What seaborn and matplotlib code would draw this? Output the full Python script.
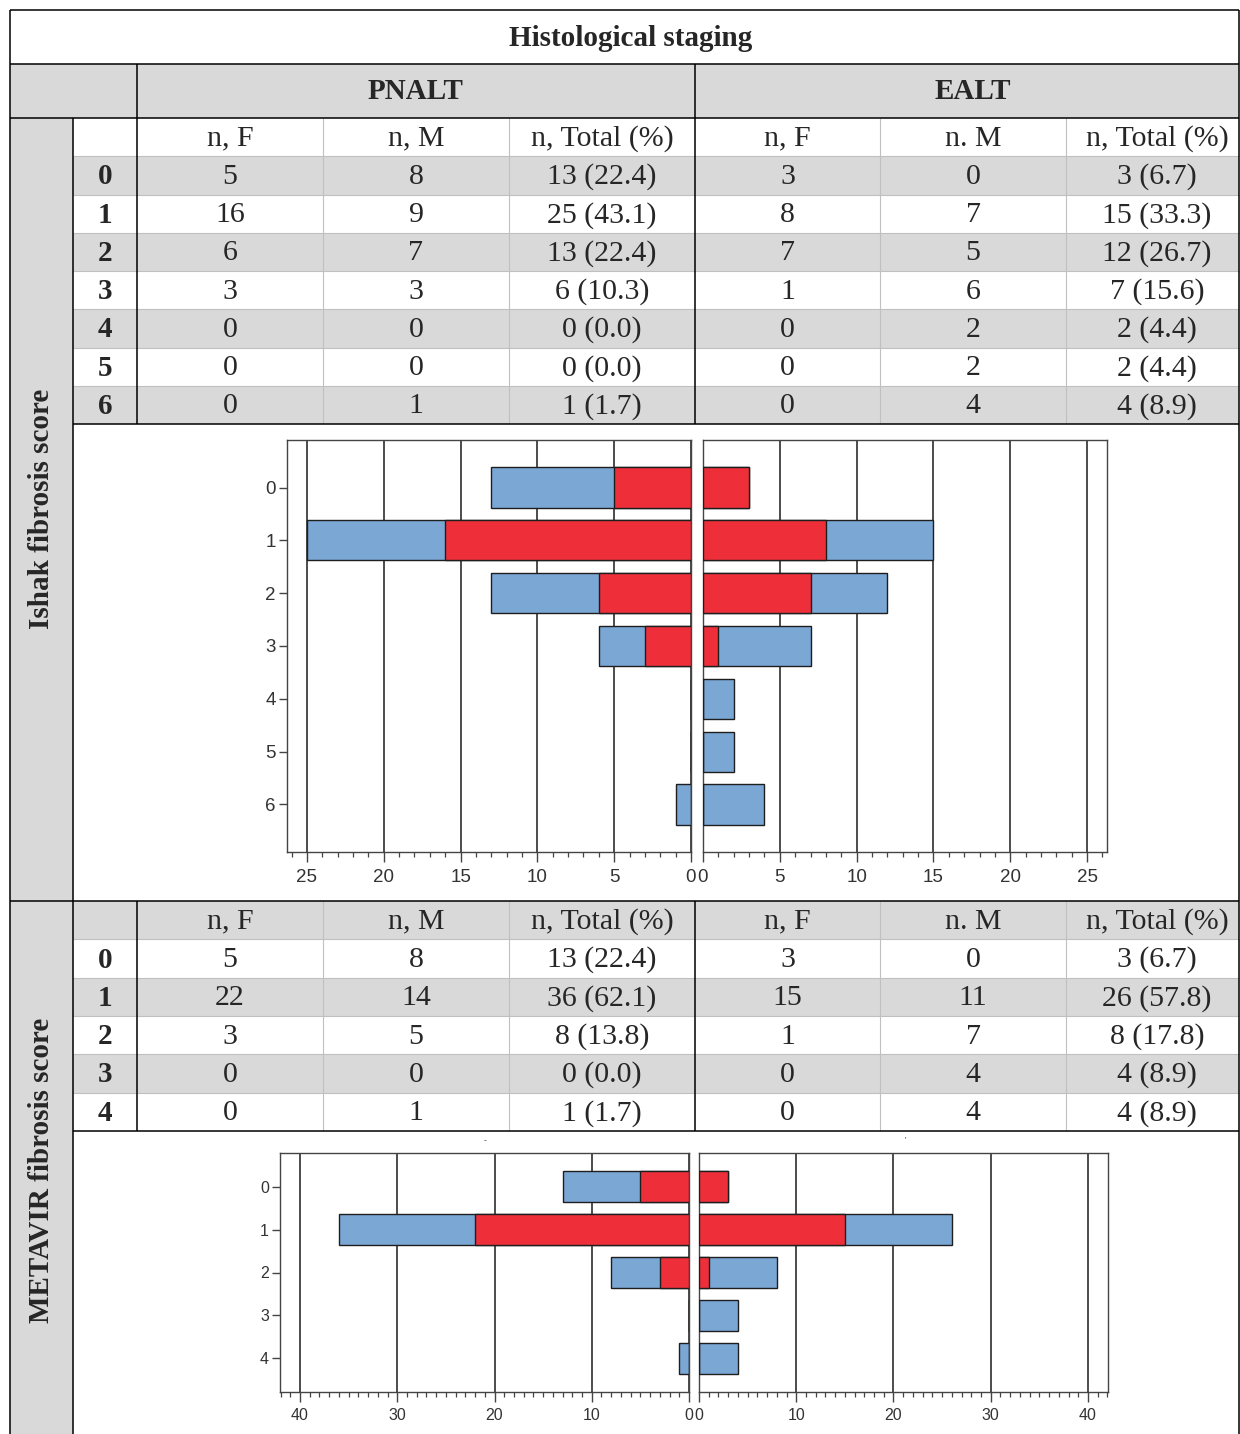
import matplotlib
matplotlib.use("Agg")
import matplotlib.pyplot as plt
from matplotlib.ticker import MultipleLocator
from matplotlib.patches import Rectangle
import seaborn as sns
import pandas as pd

# ---------------- data ----------------
ishak_scores = ['0', '1', '2', '3', '4', '5', '6']
ishak_pnalt_f = [5, 16, 6, 3, 0, 0, 0]
ishak_pnalt_m = [8, 9, 7, 3, 0, 0, 1]
ishak_pnalt_pct = [22.4, 43.1, 22.4, 10.3, 0.0, 0.0, 1.7]
ishak_ealt_f = [3, 8, 7, 1, 0, 0, 0]
ishak_ealt_m = [0, 7, 5, 6, 2, 2, 4]
ishak_ealt_pct = [6.7, 33.3, 26.7, 15.6, 4.4, 4.4, 8.9]

metavir_scores = ['0', '1', '2', '3', '4']
metavir_pnalt_f = [5, 22, 3, 0, 0]
metavir_pnalt_m = [8, 14, 5, 0, 1]
metavir_pnalt_pct = [22.4, 62.1, 13.8, 0.0, 1.7]
metavir_ealt_f = [3, 15, 1, 0, 0]
metavir_ealt_m = [0, 11, 7, 4, 4]
metavir_ealt_pct = [6.7, 57.8, 17.8, 8.9, 8.9]

pnalt_headers = ['n, F', 'n, M', 'n, Total (%)']
ealt_headers = ['n, F', 'n. M', 'n, Total (%)']

# ---------------- figure ----------------
W, H = 1240, 1434
sns.set_theme(style="white")
plt.rcParams['font.family'] = ['Liberation Serif', 'DejaVu Serif']
fig = plt.figure(figsize=(W / 100, H / 100), dpi=100)
bg = fig.add_axes([0, 0, 1, 1], zorder=0)
bg.set_xlim(0, W)
bg.set_ylim(H, 0)
bg.axis('off')

GRAY = '#d9d9d9'
LIGHT = '#c0c0c0'
BLACK = '#000000'
SERIF = ['Liberation Serif', 'DejaVu Serif']
DATA_FS = 21.5
HEAD_FS = 21
DY = 1.5


def rect(x0, y0, x1, y1, c):
    bg.add_patch(Rectangle((x0, y0), x1 - x0, y1 - y0, facecolor=c, edgecolor='none', zorder=0))


def hline(y, x0, x1, c=BLACK, lw=1.1):
    bg.plot([x0, x1], [y, y], color=c, lw=lw, zorder=2, solid_capstyle='butt')


def vline(x, y0, y1, c=BLACK, lw=1.1):
    bg.plot([x, x], [y0, y1], color=c, lw=lw, zorder=2, solid_capstyle='butt')


def txt(x, y, s, size=DATA_FS, bold=False, rot=0):
    bg.text(x, y + (DY if rot == 0 else 0), s, ha='center', va='center', fontsize=size,
            family=SERIF, fontweight='bold' if bold else 'normal', rotation=rot, zorder=3)


L, R = 10, 1239
col_edges = [137, 323, 509, 695, 880, 1066, 1239]
col_centers = [(col_edges[i] + col_edges[i + 1]) / 2 for i in range(6)]
col_centers[5] = 1157

# header rows
rect(L, 64, R, 118, GRAY)
txt(631, 37, 'Histological staging', size=HEAD_FS, bold=True)
txt(416, 90, 'PNALT', size=HEAD_FS, bold=True)
txt(973, 90, 'EALT', size=HEAD_FS, bold=True)

# label column
rect(L, 118, 73, H, GRAY)


def section(top, bottom, scores, pf, pm, pp, ef, em, ep, header_gray, gray_odd):
    n = len(scores) + 1
    rh = (bottom - top) / n
    if header_gray:
        rect(73, top, R, top + rh, GRAY)
    for i in range(len(scores)):
        y0 = top + rh * (i + 1)
        if (i % 2 == 1) == gray_odd:
            rect(73, y0, R, y0 + rh, GRAY)
    # headers
    yc = top + rh / 2
    for j, h in enumerate(pnalt_headers + ealt_headers):
        txt(col_centers[j], yc, h)
    for i, s in enumerate(scores):
        yc = top + rh * (i + 1.5)
        txt(105, yc, s, size=HEAD_FS, bold=True)
        vals = [str(pf[i]), str(pm[i]), f"{pf[i] + pm[i]} ({pp[i]:.1f})",
                str(ef[i]), str(em[i]), f"{ef[i] + em[i]} ({ep[i]:.1f})"]
        for j, v in enumerate(vals):
            txt(col_centers[j], yc, v)
    # light lines
    for i in range(1, n):
        hline(top + rh * i, 73, R, LIGHT, 0.8)
    for x in [323, 509, 880, 1066]:
        vline(x, top, bottom, LIGHT, 0.8)
    vline(137, top, bottom)
    vline(695, top, bottom)
    hline(bottom, 73, R)


section(118, 424, ishak_scores, ishak_pnalt_f, ishak_pnalt_m, ishak_pnalt_pct,
        ishak_ealt_f, ishak_ealt_m, ishak_ealt_pct, header_gray=False, gray_odd=False)
section(901, 1131, metavir_scores, metavir_pnalt_f, metavir_pnalt_m, metavir_pnalt_pct,
        metavir_ealt_f, metavir_ealt_m, metavir_ealt_pct, header_gray=True, gray_odd=True)

# black structure lines
hline(10, L, R)
hline(64, L, R)
hline(118, L, R)
hline(901, L, R)
vline(L, 10, H)
vline(R, 10, H)
vline(73, 118, H)
vline(137, 64, 118)
vline(695, 64, 118)

txt(42, 509, 'Ishak fibrosis score', size=HEAD_FS, bold=True, rot=90)
txt(42, 1170, 'METAVIR fibrosis score', size=HEAD_FS, bold=True, rot=90)

bg.text(485, 1141, '-', ha='center', va='center', fontsize=6, color='#333')
bg.text(905, 1141, "'", ha='center', va='center', fontsize=6, color='#333')

# ---------------- charts ----------------
BLUE = '#7ba7d5'
RED = '#ee2f3a'
EDGE = '#1e1e1e'
AXC = '#444444'
SANS = ['Liberation Sans', 'DejaVu Sans']


def add_ax(x0, x1, y0, y1):
    return fig.add_axes([x0 / W, 1 - y1 / H, (x1 - x0) / W, (y1 - y0) / H], zorder=5)


def pyramid(axL, axR, scores, pf, pm, ef, em, xmax, major, width, tsize, xpad, ylims):
    for ax, f, m, side in [(axL, pf, pm, 'L'), (axR, ef, em, 'R')]:
        df = pd.DataFrame({'score': scores, 'F': f, 'Total': [a + b for a, b in zip(f, m)]})
        ax.set_axisbelow(True)
        sns.barplot(data=df, x='Total', y='score', order=scores, orient='h', color=BLUE,
                    saturation=1, width=width, edgecolor=EDGE, linewidth=1.0, ax=ax, zorder=3)
        sns.barplot(data=df, x='F', y='score', order=scores, orient='h', color=RED,
                    saturation=1, width=width, edgecolor=EDGE, linewidth=1.0, ax=ax, zorder=3)
        ax.set_facecolor('white')
        ax.set_xlabel('')
        ax.set_ylabel('')
        ax.set_ylim(*ylims)
        if side == 'L':
            ax.set_xlim(xmax, 0)
        else:
            ax.set_xlim(0, xmax)
        ax.xaxis.set_major_locator(MultipleLocator(major))
        ax.xaxis.set_minor_locator(MultipleLocator(1))
        ax.grid(True, axis='x', which='major', color='#2e2e2e', lw=1.2)
        ax.grid(False, axis='y')
        for sp in ax.spines.values():
            sp.set_visible(True)
            sp.set_color(AXC)
            sp.set_linewidth(1.0)
        ax.tick_params(axis='x', which='major', bottom=True, direction='out', length=7,
                       width=1.0, color=AXC, labelsize=tsize, labelcolor='#333333', pad=xpad)
        ax.tick_params(axis='x', which='minor', bottom=True, direction='out', length=3.5,
                       width=0.9, color=AXC)
        for lab in ax.get_xticklabels():
            lab.set_family(SANS)
        if side == 'L':
            ax.tick_params(axis='y', left=True, direction='out', length=6, width=1.0, color=AXC,
                           labelsize=tsize, labelcolor='#333333', pad=2)
            for lab in ax.get_yticklabels():
                lab.set_family(SANS)
        else:
            ax.tick_params(axis='y', left=False, labelleft=False)


a1L = add_ax(287, 691, 440, 852)
a1R = add_ax(703, 1107, 440, 852)
pyramid(a1L, a1R, ishak_scores, ishak_pnalt_f, ishak_pnalt_m, ishak_ealt_f, ishak_ealt_m,
        26.3, 5, 0.76, 13.5, 5.5, (6.9, -0.9))

a2L = add_ax(280, 689, 1153, 1392)
a2R = add_ax(699, 1108, 1153, 1392)
pyramid(a2L, a2R, metavir_scores, metavir_pnalt_f, metavir_pnalt_m, metavir_ealt_f,
        metavir_ealt_m, 42.06, 10, 0.74, 11.5, 4.5, (4.78, -0.78))

fig.savefig('out.png', dpi=100)
